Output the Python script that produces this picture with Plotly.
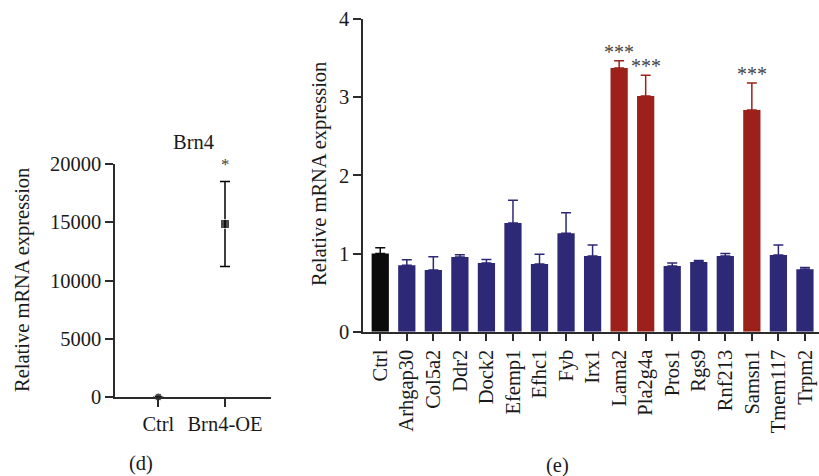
import plotly.graph_objects as go

# ---- panel (d) data ----
d_groups = ["Ctrl", "Brn4-OE"]
d_means = [1, 14850]
d_errs = [0, 3650]
d_yticks = [0, 5000, 10000, 15000, 20000]
d_yticklabels = ["0", "5000", "10000", "15000", "20000"]

# ---- panel (e) data ----
genes = ["Ctrl", "Arhgap30", "Col5a2", "Ddr2", "Dock2", "Efemp1", "Efhc1", "Fyb",
         "Irx1", "Lama2", "Pla2g4a", "Pros1", "Rgs9", "Rnf213", "Samsn1", "Tmem117", "Trpm2"]
values = [1.00, 0.85, 0.79, 0.955, 0.88, 1.39, 0.866, 1.258, 0.968, 3.372, 3.014,
          0.84, 0.89, 0.968, 2.835, 0.98, 0.80]
errors = [0.075, 0.07, 0.17, 0.03, 0.045, 0.29, 0.124, 0.262, 0.142, 0.094, 0.266,
          0.04, 0.02, 0.032, 0.345, 0.13, 0.02]
groups = ["ctrl", "ns", "ns", "ns", "ns", "ns", "ns", "ns", "ns", "sig", "sig",
          "ns", "ns", "ns", "sig", "ns", "ns"]
e_yticks = [0, 1, 2, 3, 4]

FONT = "Liberation Serif"
FS = 20.5
colors = {"ctrl": "#0b0b0b", "ns": "#2d2977", "sig": "#9c211a"}
W, H = 819, 476

fig = go.Figure()

# panel d points
fig.add_trace(go.Scatter(
    x=d_groups, y=d_means, mode="markers", xaxis="x", yaxis="y",
    marker=dict(symbol=["circle", "square"], size=[8, 9], color="#000000"),
    error_y=dict(type="data", array=d_errs, color="#000000", thickness=1.5, width=5),
    cliponaxis=False, showlegend=False))

# panel e bars
for g in ["ctrl", "ns", "sig"]:
    xs = [genes[i] for i in range(len(genes)) if groups[i] == g]
    ys = [values[i] for i in range(len(genes)) if groups[i] == g]
    es = [errors[i] for i in range(len(genes)) if groups[i] == g]
    fig.add_trace(go.Bar(
        x=xs, y=ys, xaxis="x2", yaxis="y2", width=0.65,
        marker=dict(color=colors[g], line=dict(width=0)),
        error_y=dict(type="data", symmetric=False, array=es, arrayminus=[0] * len(es),
                     color=colors[g], thickness=1.5, width=5),
        showlegend=False))

axis_common = dict(showline=True, linecolor="#2b2b2b", linewidth=1.5, ticks="outside",
                   ticklen=8, tickwidth=1.5, tickcolor="#2b2b2b", showgrid=False,
                   zeroline=False, automargin=False,
                   tickfont=dict(family=FONT, size=FS, color="#1a1a1a"))

fig.update_layout(
    width=W, height=H, margin=dict(l=0, r=0, t=0, b=0, autoexpand=False),
    paper_bgcolor="white", plot_bgcolor="white", barmode="overlay",
    xaxis=dict(domain=[115 / W, 271 / W], range=[-0.65, 1.69], type="category",
               categoryarray=d_groups, anchor="y", **axis_common),
    yaxis=dict(domain=[(H - 397) / H, (H - 164) / H], range=[0, 20000],
               tickvals=d_yticks, ticktext=d_yticklabels, anchor="x", **axis_common),
    xaxis2=dict(domain=[363 / W, 1.0], range=[-0.65, 16.53], type="category",
                categoryarray=genes, tickangle=-90, anchor="y2", **axis_common),
    yaxis2=dict(domain=[(H - 331.7) / H, (H - 19) / H], range=[0, 4],
                tickvals=e_yticks, anchor="x2", **axis_common),
)

ann = []
# asterisks
for i, g in enumerate(groups):
    if g == "sig":
        ann.append(dict(x=genes[i], y=values[i] + errors[i], xref="x2", yref="y2",
                        text="***", showarrow=False, xanchor="center", yanchor="middle",
                        yshift=9, font=dict(family=FONT, size=20, color="#444444")))
ann.append(dict(x=d_groups[1], y=d_means[1] + d_errs[1], xref="x", yref="y", text="*",
                showarrow=False, xanchor="center", yanchor="middle", yshift=17,
                font=dict(family=FONT, size=17, color="#444444")))


def label(x, y, text, angle=0):
    return dict(x=x / W, y=1 - y / H, xref="paper", yref="paper", text=text,
                textangle=angle, showarrow=False, xanchor="center", yanchor="middle",
                font=dict(family=FONT, size=FS, color="#1a1a1a"))


ann.append(label(193, 141.7, "Brn4"))
ann.append(label(22, 280, "Relative mRNA expression", -90))
ann.append(label(319, 174, "Relative mRNA expression", -90))
ann.append(label(141, 463, "(d)"))
ann.append(label(557, 465, "(e)"))
fig.update_layout(annotations=ann)

fig.write_html("out.html", config={"displayModeBar": False},
               post_script="document.body.style.margin='0';"
               "document.documentElement.style.overflow='hidden';")
